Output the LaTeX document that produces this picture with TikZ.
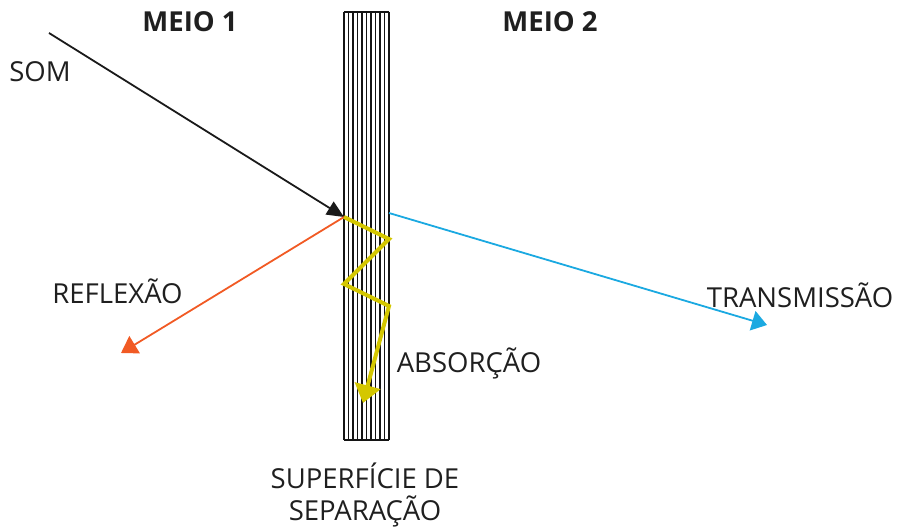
\documentclass[tikz,border=0pt]{standalone}
\usepackage{fontspec}
\setmainfont{Open Sans}
\usetikzlibrary{arrows.meta}
\definecolor{somcol}{HTML}{1A1A1A}
\definecolor{refcol}{HTML}{F15A24}
\definecolor{trancol}{HTML}{1BA9E1}
\definecolor{abscol}{HTML}{D4C700}
\tikzstyle{txt} = [font=\fontsize{27.5}{32}\selectfont, text=black!88, inner sep=0pt, anchor=base]
\tikzstyle{meio} = [txt, font=\fontsize{27.5}{32}\selectfont\bfseries]
\tikzstyle{slab} = [line width=1.7pt, draw=black!92]
\tikzstyle{ray} = [line width=1.8pt]

\begin{document}
\begin{tikzpicture}[x=1pt, y=-1pt]
\useasboundingbox (0,0) rectangle (898,532);

%Labels
\node (meio1) [meio] at (190,32) {MEIO 1};
\node (meio2) [meio] at (550,32) {MEIO 2};
\node (som) [txt] at (40,82) {SOM};
\node (ref) [txt] at (117.5,303) {REFLEXÃO};
\node (tran) [txt] at (800,307) {TRANSMISSÃO};
\node (abs) [txt] at (469,372) {ABSORÇÃO};
\node (sup1) [txt] at (365,488) {SUPERFÍCIE DE};
\node (sup2) [txt] at (365,520) {SEPARAÇÃO};

%Surface
\foreach \x in {0,...,10}
  \draw [slab] (344+4.5*\x,12) -- (344+4.5*\x,440);
\draw [slab] (344,12) -- (389,12);
\draw [slab] (344,440) -- (389,440);

%Points on the rays
\coordinate (somstart) at (49,33);
\coordinate (hit) at (344,217);
\coordinate (refend) at (121,353);
\coordinate (transtart) at (389,213);
\coordinate (tranend) at (767,325);
\coordinate (z1) at (389,239);
\coordinate (z2) at (344,284);
\coordinate (z3) at (389,306);
\coordinate (absend) at (363,403);

%Rays
\draw [ray, draw=somcol, -{Triangle[length=17pt,width=15pt]}] (somstart) -- (hit);
\draw [ray, draw=refcol, -{Triangle[length=16pt,width=20pt]}] (hit) -- (refend);
\draw [ray, draw=trancol, -{Triangle[length=15pt,width=20pt]}] (transtart) -- (tranend);
\draw [line width=4pt, draw=abscol, line join=miter, -{Triangle[length=18pt,width=26pt]}] (hit) -- (z1) -- (z2) -- (z3) -- (absend);
\end{tikzpicture}
\end{document}
